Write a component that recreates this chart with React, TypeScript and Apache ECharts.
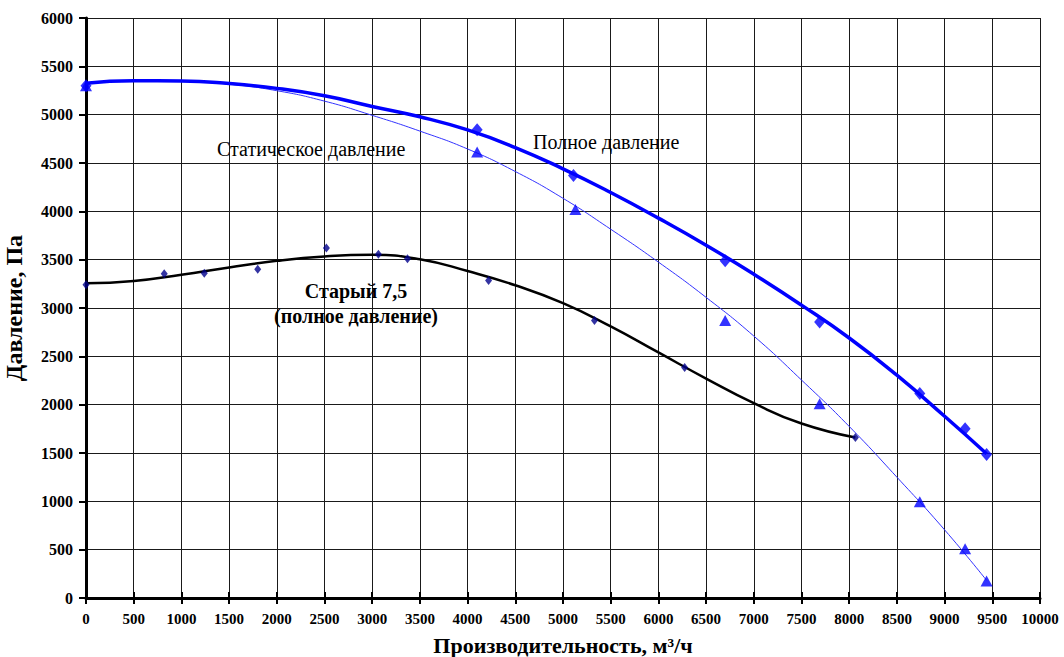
import React, { useEffect, useRef } from "react";
import * as echarts from "echarts";

// Measured data points
const fullX = [0, 4100, 5110, 6700, 7690, 8740, 9215, 9440];
const fullY = [5300, 4845, 4370, 3490, 2855, 2115, 1750, 1485];

const staticX = [0, 4100, 5130, 6700, 7690, 8740, 9215, 9440];
const staticY = [5300, 4615, 4020, 2870, 2010, 995, 510, 175];

const oldX = [0, 820, 1240, 1800, 2520, 3065, 3370, 4220, 5330, 6275, 8065];
const oldY = [3240, 3355, 3360, 3400, 3620, 3555, 3510, 3285, 2870, 2385, 1660];

// Trend curves
const fullCurveX = [0, 500, 1000, 1500, 2000, 2500, 3000, 3500, 4000, 4500, 5000, 5500, 6000, 6500, 7000, 7500, 8000, 8500, 9000, 9440];
const fullCurveY = [5326, 5350, 5348, 5322, 5272, 5195, 5085, 4978, 4842, 4660, 4440, 4195, 3930, 3650, 3350, 3030, 2690, 2305, 1880, 1493];

const staticCurveX = [0, 500, 1000, 1500, 2000, 2500, 3000, 3500, 4000, 4500, 5000, 5500, 6000, 6500, 7000, 7500, 8000, 8500, 9000, 9440];
const staticCurveY = [5326, 5348, 5345, 5315, 5248, 5140, 4993, 4830, 4645, 4412, 4135, 3815, 3475, 3110, 2710, 2255, 1775, 1250, 705, 183];

const oldCurveX = [0, 500, 1000, 1500, 2000, 2500, 3000, 3500, 4000, 4500, 5000, 5500, 6000, 6500, 7000, 7500, 8065];
const oldCurveY = [3255, 3280, 3345, 3420, 3488, 3533, 3550, 3505, 3382, 3235, 3050, 2810, 2540, 2270, 2015, 1805, 1660];

const xTickLabels = ["0", "500", "1000", "1500", "2000", "2500", "3000", "3500", "4000", "4500", "5000", "5500", "6000", "6500", "7000", "7500", "8000", "8500", "9000", "9500", "10000"];
const yTickLabels = ["0", "500", "1000", "1500", "2000", "2500", "3000", "3500", "4000", "4500", "5000", "5500", "6000"];

const xName = "Производительность, м³/ч";
const yName = "Давление, Па";
const labelStatic = "Статическое давление";
const labelFull = "Полное давление";
const labelOld1 = "Старый 7,5";
const labelOld2 = "(полное давление)";

const zip = (xs: number[], ys: number[]) => xs.map((x, i) => [x, ys[i]]);

const SERIF = '"Liberation Serif", "Times New Roman", serif';

export default function App() {
  const ref = useRef<HTMLDivElement>(null);
  useEffect(() => {
    if (!ref.current) return;
    const chart = echarts.init(ref.current, undefined, { renderer: "svg" });
    chart.setOption({
      animation: false,
      backgroundColor: "#ffffff",
      grid: { left: 86, right: 24, top: 18, bottom: 59, containLabel: false, outerBoundsMode: "none" },
      xAxis: [
        {
          type: "value",
          min: 0,
          max: 10000,
          interval: 500,
          name: xName,
          nameLocation: "middle",
          nameGap: 36,
          nameTextStyle: { fontFamily: SERIF, fontWeight: "bold", fontSize: 22, color: "#000" },
          axisLine: { show: true, onZero: false, lineStyle: { color: "#000", width: 3 } },
          axisTick: { show: true, inside: false, length: 6, lineStyle: { color: "#000", width: 2 } },
          axisLabel: {
            fontFamily: SERIF,
            fontWeight: "bold",
            fontSize: 15,
            color: "#000",
            margin: 13,
            formatter: (v: number) => xTickLabels[Math.round(v / 500)] ?? String(v),
          },
          splitLine: { show: true, lineStyle: { color: "#1a1a1a", width: 1 } },
        },
        {
          type: "value",
          position: "bottom",
          offset: 0,
          min: 0,
          max: 10000,
          interval: 500,
          axisLine: { show: false },
          axisTick: { show: true, inside: true, length: 6, lineStyle: { color: "#000", width: 2 } },
          axisLabel: { show: false },
          splitLine: { show: false },
        },
      ],
      yAxis: {
        type: "value",
        min: 0,
        max: 6000,
        interval: 500,
        name: yName,
        nameLocation: "middle",
        nameGap: 60,
        nameTextStyle: { fontFamily: SERIF, fontWeight: "bold", fontSize: 24, color: "#000" },
        axisLine: { show: true, onZero: false, lineStyle: { color: "#000", width: 3 } },
        axisTick: { show: true, inside: false, length: 7, lineStyle: { color: "#000", width: 2 } },
        axisLabel: {
          fontFamily: SERIF,
          fontWeight: "bold",
          fontSize: 16,
          color: "#000",
          margin: 13,
          formatter: (v: number) => yTickLabels[Math.round(v / 500)] ?? String(v),
        },
        splitLine: { show: true, lineStyle: { color: "#1a1a1a", width: 1 } },
      },
      series: [
        {
          name: "old curve",
          type: "line",
          data: zip(oldCurveX, oldCurveY),
          smooth: true,
          showSymbol: false,
          lineStyle: { color: "#000", width: 2.5 },
          z: 3,
        },
        {
          name: "static curve",
          type: "line",
          data: zip(staticCurveX, staticCurveY),
          smooth: true,
          showSymbol: false,
          lineStyle: { color: "#3333ff", width: 1 },
          z: 3,
        },
        {
          name: "full curve",
          type: "line",
          data: zip(fullCurveX, fullCurveY),
          smooth: true,
          showSymbol: false,
          lineStyle: { color: "#0000ff", width: 3.5 },
          z: 4,
        },
        {
          name: "old points",
          type: "scatter",
          data: zip(oldX, oldY),
          symbol: "diamond",
          symbolSize: [7, 9],
          itemStyle: { color: "#00008b" },
          z: 5,
        },
        {
          name: "static points",
          type: "scatter",
          data: zip(staticX, staticY),
          symbol: "triangle",
          symbolSize: [12, 11],
          itemStyle: { color: "#0000ff" },
          z: 5,
        },
        {
          name: "full points",
          type: "scatter",
          data: zip(fullX, fullY),
          symbol: "diamond",
          symbolSize: [11, 13],
          itemStyle: { color: "#0000ff" },
          z: 5,
        },
      ],
      graphic: [
        {
          type: "text",
          left: 217,
          top: 139,
          style: { text: labelStatic, fontFamily: SERIF, fontSize: 20, fill: "#000" },
          z: 10,
        },
        {
          type: "text",
          left: 533,
          top: 132,
          style: { text: labelFull, fontFamily: SERIF, fontSize: 20, fill: "#000" },
          z: 10,
        },
        {
          type: "text",
          x: 356,
          y: 281,
          style: { text: labelOld1, fontFamily: SERIF, fontSize: 20, fontWeight: "bold", fill: "#000", align: "center" },
          z: 10,
        },
        {
          type: "text",
          x: 356,
          y: 306,
          style: { text: labelOld2, fontFamily: SERIF, fontSize: 20, fontWeight: "bold", fill: "#000", align: "center" },
          z: 10,
        },
      ],
    });
    return () => chart.dispose();
  }, []);
  return (
    <div
      ref={ref}
      style={{ position: "fixed", left: 0, top: 0, width: 1064, height: 657, background: "#fff" }}
    />
  );
}
